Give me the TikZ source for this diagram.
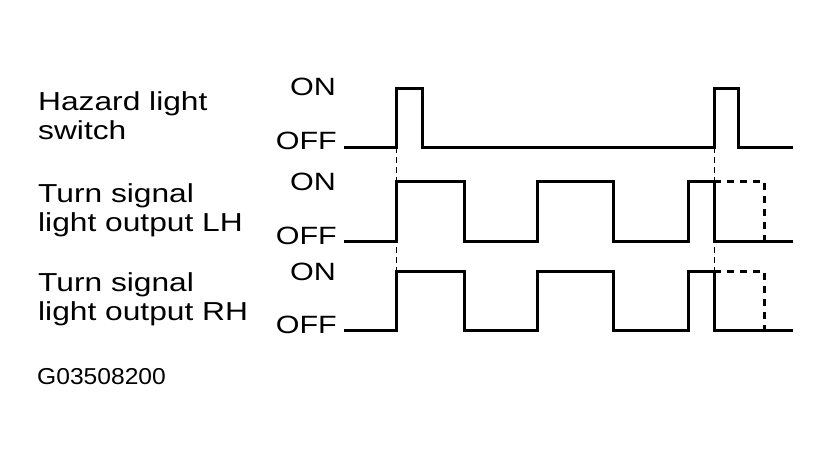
\documentclass[tikz,border=0pt]{standalone}
\usepackage{fontspec}
\setmainfont{Liberation Sans}[FakeStretch=1.22]
\newfontfamily\figfont{Liberation Sans}[FakeStretch=1.07]
\usepackage{tikz}
\tikzstyle{signame}=[anchor=base west,%
                     inner sep=0pt,%
                     align=left,%
                     font=\fontsize{26}{28.5}\selectfont]
\tikzstyle{state}=[anchor=east, inner sep=0pt, font=\fontsize{25}{25}\selectfont]
\tikzstyle{trace}=[line width=3pt, line join=miter]
\tikzstyle{extension}=[line width=3pt, dash pattern=on 7pt off 6pt]
\tikzstyle{guide}=[line width=0.9pt, dash pattern=on 6pt off 4pt]

\begin{document}
\begin{tikzpicture}[x=1pt, y=-1pt]
            \useasboundingbox (0,0) rectangle (831,461);
            % signal names (base = last line)
            \node[signame] (hz) at (38,139) {Hazard light\\switch};
            \node[signame] (lh) at (38,231) {Turn signal\\light output LH};
            \node[signame] (rh) at (38,320) {Turn signal\\light output RH};
            \node[anchor=base west, inner sep=0pt, font=\figfont\fontsize{23}{23}\selectfont] (code) at (37,384) {G03508200};
            % levels
            \node[state] (hzon)  at (336,87)  {ON};
            \node[state] (hzoff) at (337,141) {OFF};
            \node[state] (lhon)  at (336,182) {ON};
            \node[state] (lhoff) at (337,236) {OFF};
            \node[state] (rhon)  at (336,272) {ON};
            \node[state] (rhoff) at (337,325) {OFF};
            \coordinate (t1) at (396,147);
            \coordinate (t2) at (714,147);
            % guides
            \draw [guide] (t1) -- (396,271);
            \draw [guide] (t2) -- (714,271);
            % traces
            \draw [trace] (344,147) -| (396,88) -| (422,147) -| (714,88) -| (738,147) -- (793,147);
            \draw [trace] (344,241) -| (396,181) -| (464,241) -| (537,181) -| (613,241) -| (688,181) -| (714,241) -- (793,241);
            \draw [trace] (344,330) -| (396,271) -| (464,330) -| (537,271) -| (613,330) -| (688,271) -| (714,330) -- (793,330);
            \draw [extension] (714,181) -| (764,241);
            \draw [extension] (714,271) -| (764,330);
  \end{tikzpicture}
\end{document}
